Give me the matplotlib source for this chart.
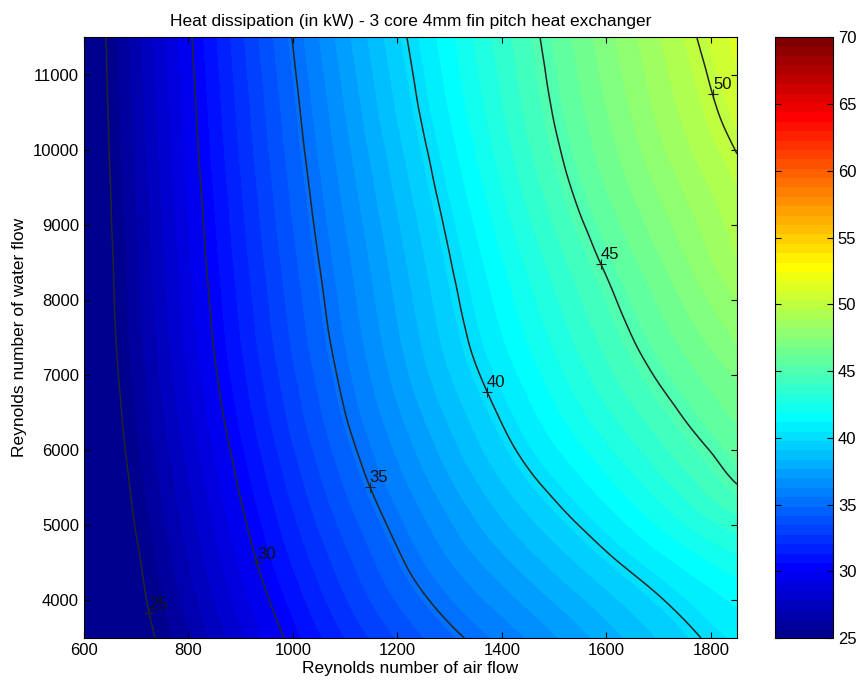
import numpy as np
import matplotlib
matplotlib.use('Agg')
import matplotlib.pyplot as plt
import matplotlib.tri as mtri
from matplotlib.colors import Normalize, ListedColormap

plt.rcParams['font.family'] = ['Liberation Sans', 'DejaVu Sans']

# Reynolds number of water flow for each row of readings
re_water = [3500, 4000, 4500, 5000, 5500, 6000, 6500, 7000, 7500, 8000, 8500,
            9000, 9500, 10000, 10500, 11000, 11500]

# air Reynolds number where each contour level crosses a row (nan = outside the frame)
nan = np.nan
x_25 = [736, 720, 709, 697, 688, 679, 672, 666, 661, 658, 656, 653, 651, 648, 646, 644, 642]
x_30 = [983, 955, 931, 912, 895, 880, 866, 855, 846, 840, 834, 829, 824, 819, 815, 811, 807]
x_35 = [1328, 1261, 1214, 1180, 1148, 1122, 1100, 1084, 1070, 1060, 1050, 1040, 1031, 1022, 1014, 1006, 998]
x_40 = [1781, 1711, 1625, 1547, 1480, 1427, 1390, 1358, 1334, 1318, 1303, 1288, 1272, 1257, 1242, 1230, 1218]
x_45 = [nan, nan, nan, nan, nan, 1797, 1740, 1690, 1650, 1619, 1588, 1558, 1532, 1512, 1496, 1484, 1473]
x_50 = [nan, nan, nan, nan, nan, nan, nan, nan, nan, nan, nan, nan, nan, nan, 1814, 1793, 1773]

# heat dissipation (kW) at the left (Re air 600) and right (Re air 1850) edges
re_air_min, re_air_max = 600, 1850
q_left = [22.25, 22.4, 22.55, 22.72, 22.9, 23.05, 23.2, 23.27, 23.34, 23.38, 23.43,
          23.48, 23.53, 23.58, 23.64, 23.67, 23.7]
q_right = [40.6, 41.3, 42.3, 43.6, 44.9, 45.6, 46.3, 46.9, 47.6, 48.2, 48.85,
           49.2, 49.57, 50.05, 50.5, 50.9, 51.3]

line_levels = [25, 30, 35, 40, 45, 50]
# where the contour labels (+) sit
label_x = [724, 931, 1147, 1371, 1589, 1804]
label_y = [3833, 4500, 5513, 6780, 8487, 10750]

# collect the scattered (x, y, q) readings
px, py, pq = [], [], []
for i, y in enumerate(re_water):
    px += [re_air_min, re_air_max]
    py += [y, y]
    pq += [q_left[i], q_right[i]]
for lev, xs in zip(line_levels, [x_25, x_30, x_35, x_40, x_45, x_50]):
    for i, x in enumerate(xs):
        if not np.isnan(x):
            px.append(x)
            py.append(re_water[i])
            pq.append(lev)
px, py, pq = np.array(px, float), np.array(py, float), np.array(pq, float)

# triangulate + smooth in normalised coordinates, then go back to real ones
tri_n = mtri.Triangulation((px - 600) / 1250.0, (py - 3500) / 8000.0)
refiner = mtri.UniformTriRefiner(tri_n)
tri_rn, q_r = refiner.refine_field(pq, subdiv=3)
tri = mtri.Triangulation(tri_rn.x * 1250.0 + 600, tri_rn.y * 8000.0 + 3500, tri_rn.triangles)

# MATLAB style jet(64)
n, m = 64, 16
u = np.concatenate([np.arange(1, m + 1) / m, np.ones(m - 1), np.arange(m, 0, -1) / m])
g_idx = m // 2 + np.arange(1, len(u) + 1)
r_idx = g_idx + m
b_idx = g_idx - m
jet = np.zeros((n, 3))
jet[r_idx[r_idx <= n] - 1, 0] = u[r_idx <= n]
jet[g_idx[g_idx <= n] - 1, 1] = u[g_idx <= n]
jet[b_idx[b_idx >= 1] - 1, 2] = u[b_idx >= 1]
cmap = ListedColormap(jet)
cmap.set_under(jet[0])
norm = Normalize(vmin=25, vmax=70)

fig = plt.figure(figsize=(8.57, 6.85), dpi=100)
ax = fig.add_axes([0.098, 0.0686, 0.762, 0.877])
cax = fig.add_axes([0.904, 0.0686, 0.068, 0.877])

fill_levels = np.linspace(25, 70, 65)
ax.tricontourf(tri, q_r, levels=fill_levels, cmap=cmap, norm=norm, extend='min',
               antialiased=False, zorder=1)
ax.tricontour(tri, q_r, levels=[l + 1e-4 for l in line_levels], colors='#252525',
              linewidths=1.1, linestyles='solid', zorder=3)

for lev, lx, ly in zip(line_levels, label_x, label_y):
    ax.plot(lx, ly, marker='+', color='#202020', markersize=7, markeredgewidth=0.8, zorder=4)
    ax.annotate(str(lev), (lx, ly), xytext=(0, 1), textcoords='offset points',
                ha='left', va='bottom', fontsize=12, color='#111111', zorder=4)

ax.set_xlim(600, 1850)
ax.set_ylim(3500, 11500)
ax.set_xticks([600, 800, 1000, 1200, 1400, 1600, 1800])
ax.set_yticks(range(4000, 11001, 1000))
ax.tick_params(direction='in', labelsize=12, top=True, right=True, length=4)
ax.set_xlabel('Reynolds number of air flow', fontsize=12.5, labelpad=2)
ax.set_ylabel('Reynolds number of water flow', fontsize=12.5)
ax.set_title('Heat dissipation (in kW) - 3 core 4mm fin pitch heat exchanger', fontsize=12.5, pad=8)

sm = matplotlib.cm.ScalarMappable(norm=norm, cmap=cmap)
cb = fig.colorbar(sm, cax=cax)
cb.set_ticks(range(25, 71, 5))
cax.tick_params(direction='in', labelsize=12, left=True, right=True, length=4)

fig.savefig('out.png', dpi=100)
